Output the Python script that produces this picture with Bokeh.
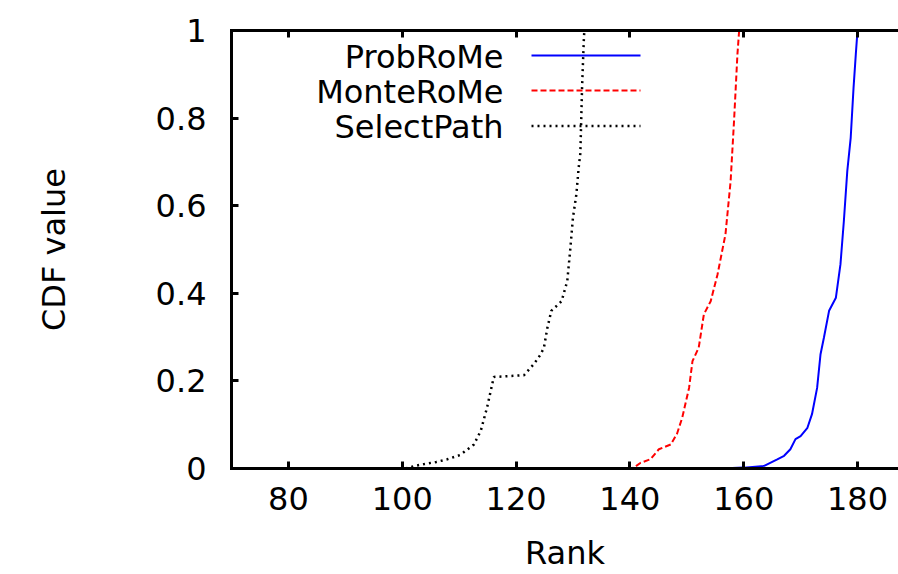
from bokeh.plotting import figure
from bokeh.models import (Range1d, FixedTicker, LinearAxis, Label, Arrow,
                          CustomLabelingPolicy)
from bokeh.embed import file_html
from bokeh.resources import INLINE

# ---- data ----
x_ticks = [80, 100, 120, 140, 160, 180]
y_ticks = [0, 0.2, 0.4, 0.6, 0.8, 1]
y_tick_labels = ["0", "0.2", "0.4", "0.6", "0.8", "1"]

series_names = ["ProbRoMe", "MonteRoMe", "SelectPath"]

probrome_rank = [70, 156, 160, 163.6, 165.9, 167.1, 168.2, 169.1, 170.0, 171.2, 172.0,
                 172.9, 173.5, 174.1, 175.0, 176.2, 177.0, 177.6, 178.2, 178.8, 179.3,
                 179.7, 180.0]
probrome_cdf = [0, 0, 0.002, 0.006, 0.021, 0.029, 0.044, 0.067, 0.074, 0.093, 0.124,
                0.184, 0.261, 0.299, 0.36, 0.39, 0.466, 0.565, 0.679, 0.755, 0.869,
                0.946, 1.0]

monterome_rank = [70, 140.0, 140.7, 141.9, 143.6, 145.1, 147.2, 148.3, 149.2, 150.4,
                  151.0, 152.1, 153.0, 154.2, 155.4, 156.8, 157.7, 158.3, 158.6, 158.9,
                  159.2]
monterome_cdf = [0, 0, 0.002, 0.013, 0.021, 0.044, 0.055, 0.08, 0.116, 0.184, 0.245,
                 0.276, 0.352, 0.382, 0.443, 0.535, 0.656, 0.793, 0.869, 0.946, 1.0]

selectpath_rank = [70, 100.5, 102.6, 103.8, 106.0, 107.9, 110.2, 112.6, 113.8, 114.9,
                   115.8, 116.1, 121.4, 123.1, 124.3, 124.9, 125.5, 126.2, 128.0, 129.0,
                   129.5, 130.0, 130.6, 131.0, 131.3, 131.6, 131.9, 132.0]
selectpath_cdf = [0, 0, 0.007, 0.01, 0.015, 0.021, 0.031, 0.055, 0.086, 0.139, 0.192,
                  0.209, 0.213, 0.238, 0.26, 0.276, 0.321, 0.36, 0.382, 0.428, 0.497,
                  0.573, 0.626, 0.687, 0.72, 0.87, 0.976, 1.0]

FONT = "DejaVu Sans"
FS = "32px"

p = figure(width=898, height=574, output_backend="svg", toolbar_location=None,
           x_range=Range1d(70, 187.2), y_range=Range1d(0, 1),
           min_border_left=231, min_border_right=0, min_border_top=30,
           min_border_bottom=106)
p.outline_line_color = None
p.grid.visible = False
p.background_fill_color = "white"
p.border_fill_color = "white"

def style_axis(ax):
    ax.axis_line_width = 3
    ax.axis_line_color = "black"
    ax.axis_line_cap = "square"
    ax.major_tick_in = 7
    ax.major_tick_out = 0
    ax.major_tick_line_width = 3
    ax.major_tick_line_color = "black"
    ax.minor_tick_in = 0
    ax.minor_tick_out = 0
    ax.major_label_text_font = FONT
    ax.major_label_text_font_size = FS
    ax.major_label_text_color = "black"
    ax.axis_label_text_font = FONT
    ax.axis_label_text_font_size = FS
    ax.axis_label_text_font_style = "normal"
    ax.axis_label_text_color = "black"

xa = p.xaxis[0]
xa.ticker = FixedTicker(ticks=x_ticks)
style_axis(xa)
xa.axis_label = "Rank"
xa.major_label_standoff = 18
xa.axis_label_standoff = 21

ya = p.yaxis[0]
ya.ticker = FixedTicker(ticks=y_ticks)
ya.major_label_overrides = {t: s for t, s in zip(y_ticks, y_tick_labels)}
style_axis(ya)
ya.axis_label = "CDF value"
ya.major_label_standoff = 25
ya.axis_label_standoff = 80

# mirrored ticks on the top edge, without labels
top = LinearAxis(ticker=FixedTicker(ticks=x_ticks))
style_axis(top)
top.major_label_standoff = 0
top.major_label_policy = CustomLabelingPolicy(
    code="for (let i = 0; i < indices.size; i++) { indices.unset(i) }\nreturn indices")
p.add_layout(top, "above")

colors = ["#0000ff", "#ff0000", "black"]
dashes = ["solid", "6 3", "2 4"]
widths = [2, 2, 2.5]
xs = [probrome_rank, monterome_rank, selectpath_rank]
ys = [probrome_cdf, monterome_cdf, selectpath_cdf]

for x, y, c, d, w in zip(xs, ys, colors, dashes, widths):
    p.line(x, y, line_color=c, line_width=w, line_dash=d)

# legend: label on the left (right-aligned), line sample on the right
row_y = [413, 378, 342.5]
for name, yy, c, d, w in zip(series_names, row_y, colors, dashes, widths):
    p.add_layout(Label(x=272, y=yy - 1, x_units="screen", y_units="screen", text=name,
                       text_align="right", text_baseline="middle", text_font=FONT,
                       text_font_size=FS, text_color="black"))
    p.add_layout(Arrow(end=None, x_start=300, y_start=yy, x_end=409, y_end=yy,
                       start_units="screen", end_units="screen",
                       line_color=c, line_width=w, line_dash=d))

open("out.html", "w").write(file_html(p, INLINE))
